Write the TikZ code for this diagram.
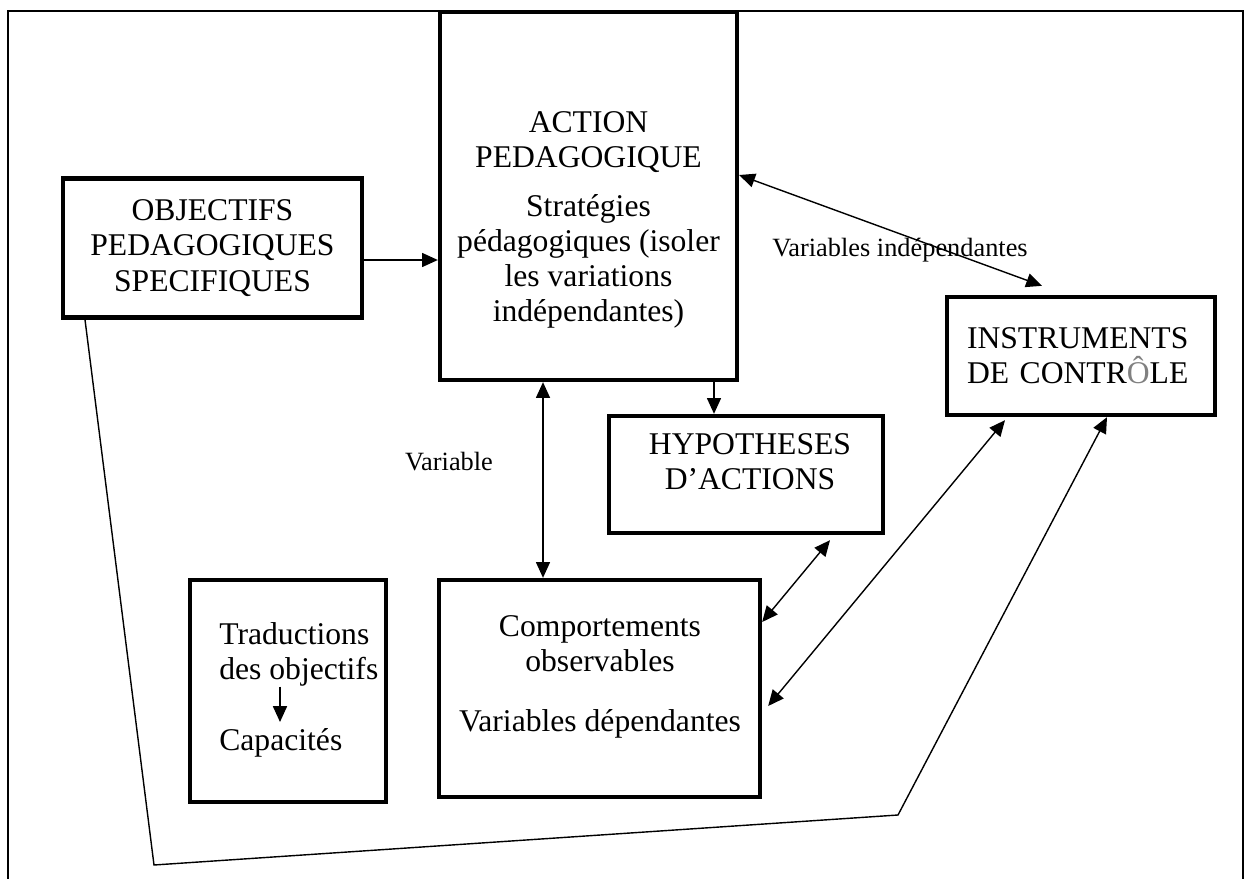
\documentclass[tikz,border=0pt]{standalone}
\usepackage{fontspec}
\setmainfont{Liberation Serif}
\usetikzlibrary{arrows.meta,calc}

\begin{document}
\begin{tikzpicture}[x=0.02cm,y=-0.02cm,
  box/.style={draw, line width=2.5pt, inner sep=0pt, font=\fontsize{18}{20}\selectfont},
  txt/.style={inner sep=0pt, font=\fontsize{18}{20}\selectfont},
  lbl/.style={inner sep=0pt, font=\fontsize{15}{18}\selectfont},
  tip/.style={line width=0.8pt, -{Triangle[length=9pt,width=8pt]}},
  dbl/.style={line width=0.8pt, {Triangle[length=9pt,width=8pt]}-{Triangle[length=9pt,width=8pt]}}]
\useasboundingbox (0,0) rectangle (1245,879);
% frame
\draw [line width=1.1pt] (8,879) -- (8,11) -- (1243,11) -- (1243,879);
% boxes
\node[box, minimum width=5.98cm, minimum height=2.78cm, align=center] (obj) at (212.5,248) {OBJECTIFS\\PEDAGOGIQUES\\SPECIFIQUES};
\node[box, minimum width=5.94cm, minimum height=7.36cm] (act) at (588.5,196) {};
\node[box, minimum width=5.48cm, minimum height=2.34cm] (hyp) at (746,474.5) {};
\node[box, text width=4.56cm, inner xsep=0.4cm, minimum height=2.36cm, align=left] (ins) at (1081,356) {INSTRUMENTS\\DE CONTR{\color{gray}Ô}LE};
\node[box, minimum width=3.92cm, minimum height=4.44cm] (tra) at (288,691) {};
\node[box, minimum width=6.42cm, minimum height=4.34cm] (com) at (599.5,688.5) {};
% text in boxes
\node[txt, align=center] (acttxt) at (588.5,220) {ACTION\\PEDAGOGIQUE\\[8pt]Stratégies\\pédagogiques (isoler\\les variations\\indépendantes)};
\node[txt, align=center] (hyptxt) at (750,462) {HYPOTHESES\\D’ACTIONS};
\node[txt, align=center] (comtxt) at (600,677) {Comportements\\observables\\[14pt]Variables dépendantes};
\node[txt, align=left, anchor=north west] (tratop) at (219,622) {Traductions\\des objectifs};
\node[txt, anchor=north west] (tracap) at (219,728) {Capacités};
\draw[tip] (tratop.south -| 280,0) -- ($(tracap.north -| 280,0)+(0,-6)$);
% labels
\node[lbl] (vi) at (900,250) {Variables indépendantes};
\node[lbl] (va) at (449,462) {Variable};
% arrows
\draw[tip] (obj.east |- 0,260) -- (act.west |- 0,260);
\draw[dbl] (act.east |- 0,175) -- ($(ins.north -| 1042,0)+(0,-9)$);
\draw[tip] (act.south -| 714,0) -- (hyp.north -| 714,0);
\draw[dbl] (act.south -| 543,0) -- (com.north -| 543,0);
\draw[dbl] ($(hyp.south -| 830,0)+(0,5)$) -- (com.east |- 0,622);
\draw[dbl] ($(ins.south -| 1005,0)+(0,3)$) -- ($(com.east |- 0,706)+(6,0)$);
\draw[tip] (obj.south -| 85,0) -- (154,865) -- (898,815) -- (ins.south -| 1107,0);
\end{tikzpicture}
\end{document}
